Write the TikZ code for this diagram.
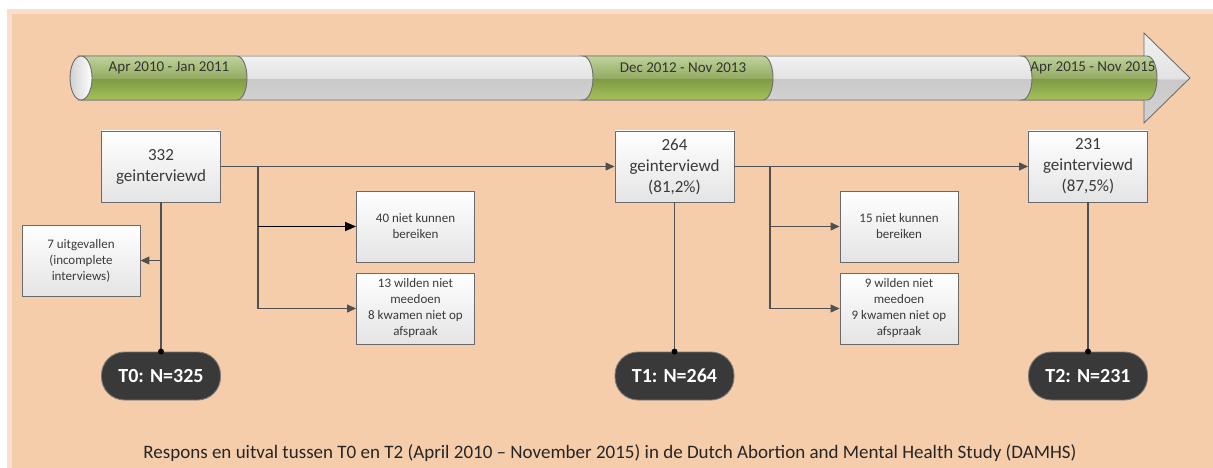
\documentclass[tikz,border=0pt]{standalone}
\usepackage{fontspec}
\setmainfont{Carlito}
\usetikzlibrary{arrows.meta}

\definecolor{peach}{HTML}{F5CDAB}
\definecolor{peachlight}{HTML}{F9DFCC}
\definecolor{tubeline}{HTML}{6E6E6E}
\definecolor{boxline}{HTML}{6A6A6A}
\definecolor{boxbot}{HTML}{E4E4E4}
\definecolor{txt}{HTML}{3A3A3A}
\definecolor{connc}{HTML}{505050}
\definecolor{termfill}{HTML}{393939}
\definecolor{termline}{HTML}{7A7A7A}
\definecolor{captext}{HTML}{262626}
\definecolor{gbot}{HTML}{A6C25C}
\definecolor{gmid}{HTML}{7E9A44}
\definecolor{gmidb}{HTML}{94AC62}
\definecolor{gtop}{HTML}{BFD29C}
\definecolor{kbot}{HTML}{D2D2D2}
\definecolor{kmid}{HTML}{C9C9C9}
\definecolor{kmidb}{HTML}{E3E3E3}
\definecolor{ktop}{HTML}{F1F1F1}

\pgfdeclareverticalshading{greentube}{100bp}{color(0bp)=(gbot); color(25bp)=(gbot); color(49bp)=(gmid); color(50bp)=(gmidb); color(75bp)=(gtop); color(100bp)=(gtop)}
\pgfdeclareverticalshading{graytube}{100bp}{color(0bp)=(kbot); color(25bp)=(kbot); color(49bp)=(kmid); color(50bp)=(kmidb); color(75bp)=(ktop); color(100bp)=(ktop)}

\tikzset{
  box/.style={draw=boxline, line width=0.9pt, top color=white, bottom color=boxbot,
    inner sep=0pt, align=center, text=txt},
  bigbox/.style={box, minimum width=119pt, minimum height=71pt, font=\fontsize{17}{21}\selectfont},
  smallbox/.style={box, minimum width=118pt, minimum height=71pt, font=\fontsize{13}{16}\selectfont},
  term/.style={draw=termline, line width=0.9pt, fill=termfill, rounded corners=23pt,
    minimum width=119pt, minimum height=48pt, inner sep=0pt, text=white,
    font=\fontsize{20}{24}\selectfont\bfseries},
  conn/.style={draw=connc, line width=1.1pt},
  arr/.style={-{Triangle[length=9pt,width=8pt]}},
  tl/.style={font=\fontsize{15}{18}\selectfont, text=black!80, inner sep=0pt},
  tube/.style={draw=tubeline, line width=0.9pt},
}

\begin{document}
\begin{tikzpicture}[x=1pt,y=1pt]
\useasboundingbox (0,0) rectangle (1213,-468);
% background
\fill[white] (0,0) rectangle (1213,-468);
\fill[peachlight] (7,-9) rectangle (1213,-468);
\fill[peach] (12,-14) rectangle (1213,-468);

% timeline arrow
\shade[shading=graytube] (1144,-33) -- (1190,-78) -- (1144,-123) -- cycle;
\shade[shading=graytube] (81,-56) rectangle (1144,-100);
\draw[tube] (81,-56) -- (1144,-56) -- (1144,-33) -- (1190,-78) -- (1144,-123) -- (1144,-100) -- (81,-100);

% green segments
\foreach \xa/\xb in {81/237, 583/763, 1022/1147}{
  \draw[tube, shading=greentube]
    (\xa,-56) -- (\xb,-56) arc[start angle=90, end angle=-90, x radius=10, y radius=22]
    -- (\xa,-100) arc[start angle=-90, end angle=90, x radius=10, y radius=22] -- cycle;
}
% left cap
\draw[tube, left color=black!18, right color=white] (81,-78) ellipse [x radius=11, y radius=22];

\node[tl] (l1) at (169,-68) {Apr 2010 - Jan 2011};
\node[tl] (l2) at (683,-68) {Dec 2012 - Nov 2013};
\node[tl] (l3) at (1093,-68) {Apr 2015 - Nov 2015};

% boxes
\node[bigbox] (A) at (161,-166.5) {332\\geinterviewd};
\node[bigbox] (B) at (674.5,-166.5) {264\\geinterviewd\\(81,2\%)};
\node[bigbox] (C) at (1088,-166.5) {231\\geinterviewd\\(87,5\%)};
\node[smallbox] (u7) at (81,-260.5) {7 uitgevallen\\(incomplete\\interviews)};
\node[smallbox] (b40) at (415.5,-226.5) {40 niet kunnen\\bereiken};
\node[smallbox] (b13) at (415.5,-308.5) {13 wilden niet\\meedoen\\8 kwamen niet op\\afspraak};
\node[smallbox] (b15) at (899,-226.5) {15 niet kunnen\\bereiken};
\node[smallbox] (b9) at (899,-308.5) {9 wilden niet\\meedoen\\9 kwamen niet op\\afspraak};

\node[term] (T0) at (161,-376) {T0: N=325};
\node[term] (T1) at (674.5,-376) {T1: N=264};
\node[term] (T2) at (1088,-376) {T2: N=231};

% connectors
\coordinate (j1) at (258,-166.5);
\coordinate (j2) at (770,-166.5);
\draw[conn, arr] (A.east) -- (B.west);
\draw[conn, arr] (B.east) -- (C.west);
\draw[conn, arr] (j1) |- (b13.west);
\draw[conn, arr] (j2) |- (b9.west);
\draw[draw=black, line width=1.5pt, -{Triangle[length=11pt,width=9pt]}] (j1 |- b40.west) -- (b40.west);
\draw[conn, arr] (j2 |- b15.west) -- (b15.west);
\draw[conn, arr] (A.south |- u7.east) -- (u7.east);
\draw[conn] (A.south) -- (T0.north);
\draw[conn] (B.south) -- (T1.north);
\draw[conn] (C.south) -- (T2.north);
\fill (T0.north) circle[radius=3];
\fill (T1.north) circle[radius=3];
\fill (T2.north) circle[radius=3];

\node[font=\fontsize{19}{23}\selectfont, text=captext, inner sep=0pt] (cap) at (610,-453)
  {Respons en uitval tussen T0 en T2 (April 2010 – November 2015) in de Dutch Abortion and Mental Health Study (DAMHS)};
\end{tikzpicture}
\end{document}
